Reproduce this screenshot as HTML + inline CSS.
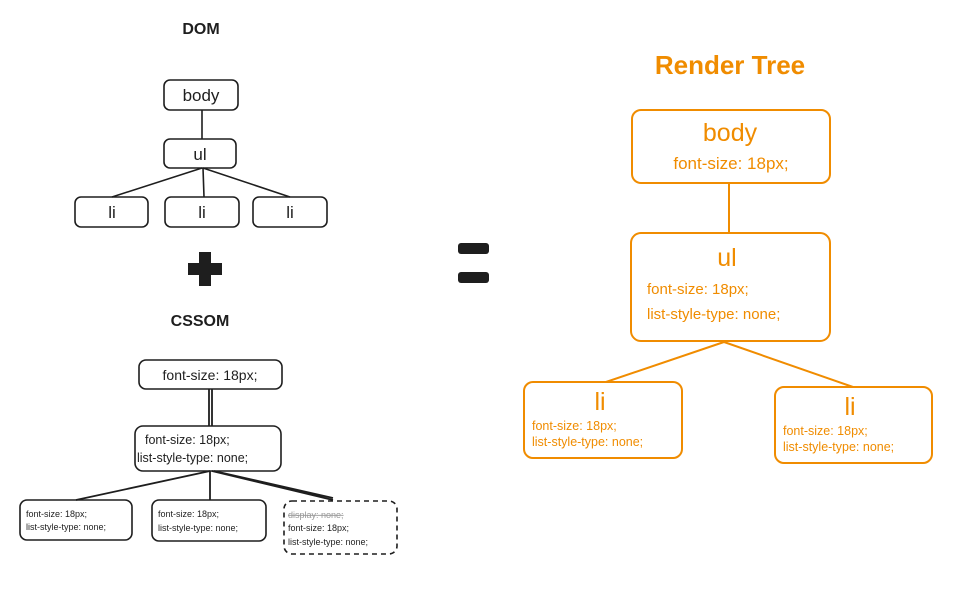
<!DOCTYPE html>
<html><head><style>
html,body{margin:0;padding:0;background:#fff;}
svg{display:block;font-family:"Liberation Sans",sans-serif;}
</style></head><body>
<svg width="958" height="590" viewBox="0 0 958 590" xmlns="http://www.w3.org/2000/svg">
<g fill="none" stroke="#1e1e1e" stroke-width="1.6">
<rect x="164" y="80" width="74" height="30" rx="6"/>
<rect x="164" y="139" width="72" height="29" rx="6"/>
<rect x="75" y="197" width="73" height="30" rx="6"/>
<rect x="165" y="197" width="74" height="30" rx="6"/>
<rect x="253" y="197" width="74" height="30" rx="6"/>
<path d="M202 110 L202 139 M202 168 L112 197 M203 168 L204 197 M203 168 L290 197"/>
<rect x="139" y="360" width="143" height="29" rx="7"/>
<rect x="135" y="426" width="146" height="45" rx="8"/>
<rect x="20" y="500" width="112" height="40" rx="7"/>
<rect x="152" y="500" width="114" height="41" rx="7"/>
<rect x="284" y="501" width="113" height="53" rx="8" stroke-dasharray="5 4"/>
<path d="M209 389 L209 426 M212 389 L212 426" stroke-width="1.8"/>
<path d="M210 471 L76 500 M210 471 L210 500 M212 471 L333 500 M214 471 L333 498" stroke-width="1.8"/>
</g>
<g fill="#1e1e1e" font-weight="bold" text-anchor="middle" font-size="16">
<text x="201" y="34">DOM</text>
<text x="200" y="326">CSSOM</text>
</g>
<path d="M199 252h12v11h11v12h-11v11h-12v-11h-11v-12h11z" fill="#1e1e1e"/>
<rect x="458" y="243" width="31" height="11" rx="3" fill="#1e1e1e"/>
<rect x="458" y="272" width="31" height="11" rx="3" fill="#1e1e1e"/>
<g fill="#1e1e1e" text-anchor="middle">
<text x="201" y="101" font-size="17">body</text>
<text x="200" y="160" font-size="17">ul</text>
<text x="112" y="218" font-size="17">li</text>
<text x="202" y="218" font-size="17">li</text>
<text x="290" y="218" font-size="17">li</text>
<text x="210" y="380" font-size="14">font-size: 18px;</text>
</g>
<g fill="#1e1e1e" font-size="12.5">
<text x="145" y="444">font-size: 18px;</text>
<text x="137" y="462">list-style-type: none;</text>
</g>
<g fill="#1e1e1e" font-size="9">
<text x="26" y="517">font-size: 18px;</text>
<text x="26" y="530">list-style-type: none;</text>
<text x="158" y="517">font-size: 18px;</text>
<text x="158" y="531">list-style-type: none;</text>
<text x="288" y="518" fill="#999" text-decoration="line-through">display: none;</text>
<text x="288" y="531">font-size: 18px;</text>
<text x="288" y="545">list-style-type: none;</text>
</g>
<g fill="none" stroke="#f08c00" stroke-width="2">
<rect x="632" y="110" width="198" height="73" rx="9"/>
<rect x="631" y="233" width="199" height="108" rx="10"/>
<rect x="524" y="382" width="158" height="76" rx="9"/>
<rect x="775" y="387" width="157" height="76" rx="9"/>
<path d="M729 183 L729 233 M724 342 L606 382 M724 342 L853 387"/>
</g>
<g fill="#f08c00" text-anchor="middle">
<text x="730" y="74" font-size="26" font-weight="bold">Render Tree</text>
<text x="730" y="141" font-size="25">body</text>
<text x="731" y="169" font-size="17">font-size: 18px;</text>
<text x="727" y="266" font-size="25">ul</text>
<text x="600" y="410" font-size="25">li</text>
<text x="850" y="415" font-size="25">li</text>
</g>
<g fill="#f08c00">
<text x="647" y="294" font-size="15">font-size: 18px;</text>
<text x="647" y="319" font-size="15">list-style-type: none;</text>
<text x="532" y="430" font-size="12.5">font-size: 18px;</text>
<text x="532" y="446" font-size="12.5">list-style-type: none;</text>
<text x="783" y="435" font-size="12.5">font-size: 18px;</text>
<text x="783" y="451" font-size="12.5">list-style-type: none;</text>
</g>
</svg>
</body></html>
